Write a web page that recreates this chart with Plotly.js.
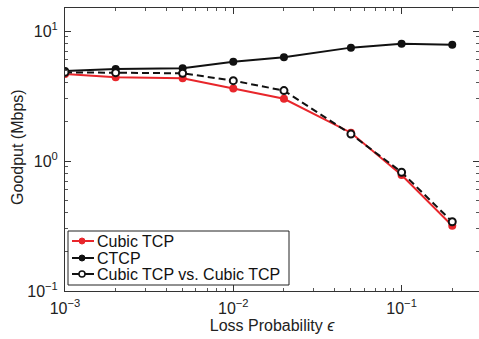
<!DOCTYPE html>
<html>
<head>
<meta charset="utf-8">
<script src="https://cdn.plot.ly/plotly-3.0.1.min.js"></script>
<style>html,body{margin:0;padding:0;background:#fff;}#chart{width:479px;height:339px;}</style>
</head>
<body>
<div id="chart"></div>
<script>
var lossProb = [0.001, 0.002, 0.005, 0.01, 0.02, 0.05, 0.1, 0.2];
var cubicTCP = [4.67, 4.41, 4.33, 3.62, 3.01, 1.65, 0.78, 0.318];
var ctcp = [4.92, 5.10, 5.16, 5.81, 6.28, 7.45, 7.98, 7.85];
var cubicVsCubic = [4.81, 4.78, 4.73, 4.15, 3.48, 1.61, 0.82, 0.341];
var seriesNames = ['Cubic TCP', 'CTCP', 'Cubic TCP vs. Cubic TCP'];
var xTickVals = [0.001, 0.01, 0.1];
var xTickText = ['10<sup>−3</sup>', '10<sup>−2</sup>', '10<sup>−1</sup>'];
var yTickVals = [0.1, 1, 10];
var yTickText = ['10<sup>−1</sup>', '10<sup>0</sup>', '10<sup>1</sup>'];
var xTitle = 'Loss Probability <i>ϵ</i>';
var yTitle = 'Goodput (Mbps)';

var RED = '#e8262b', BLK = '#111';

function minorVals(e0, e1) {
  var v = [];
  for (var e = e0; e <= e1; e++) for (var m = 2; m <= 9; m++) v.push(m * Math.pow(10, e));
  return v;
}

var styles = [
  {line: {color: RED, width: 2}, marker: {color: RED, size: 8, symbol: 'circle'}},
  {line: {color: BLK, width: 2}, marker: {color: BLK, size: 8, symbol: 'circle'}},
  {line: {color: BLK, width: 2, dash: '7px,4px'}, marker: {color: '#fff', size: 7, symbol: 'circle', line: {color: BLK, width: 2}}}
];
var series = [cubicTCP, ctcp, cubicVsCubic];
var traces = series.map(function (ys, i) {
  return {x: lossProb, y: ys, name: seriesNames[i], mode: 'lines+markers',
    line: styles[i].line, marker: styles[i].marker, showlegend: false};
});

// manual compact legend (paper coordinates)
var plotL = 65, plotW = 414, plotB = 291, plotH = 283;
function px(x) { return (x - plotL) / plotW; }
function py(y) { return (plotB - y) / plotH; }
var shapes = [{type: 'rect', xref: 'paper', yref: 'paper', x0: px(68), x1: px(289), y0: py(285), y1: py(231),
  line: {color: '#222', width: 1}, fillcolor: '#fff', layer: 'above'}];
var annotations = [];
var rowY = [241, 258, 274];
seriesNames.forEach(function (nm, i) {
  var yy = py(rowY[i]);
  shapes.push({type: 'line', xref: 'paper', yref: 'paper', x0: px(72), x1: px(94), y0: yy, y1: yy,
    line: {color: styles[i].line.color, width: 2}, layer: 'above'});
  var r = 3;
  shapes.push({type: 'circle', xref: 'paper', yref: 'paper', xsizemode: 'pixel', ysizemode: 'pixel',
    xanchor: px(82), yanchor: yy, x0: -r, x1: r, y0: -r, y1: r,
    fillcolor: i === 2 ? '#fff' : styles[i].marker.color,
    line: {color: i === 2 ? BLK : styles[i].marker.color, width: i === 2 ? 1.5 : 1}, layer: 'above'});
  annotations.push({xref: 'paper', yref: 'paper', x: px(95), y: yy, xanchor: 'left', yanchor: 'middle',
    text: nm, showarrow: false, font: {size: 16, color: '#111'}});
});
annotations.push({xref: 'paper', yref: 'paper', x: px(17), y: py(147), xanchor: 'center', yanchor: 'middle',
  textangle: -90, text: yTitle, showarrow: false, font: {size: 16, color: '#222'}});

var layout = {
  width: 479, height: 339,
  margin: {l: 65, r: 0, t: 8, b: 48},
  paper_bgcolor: '#fff', plot_bgcolor: '#fff',
  font: {family: 'Liberation Sans, Arial, sans-serif', color: '#222', size: 16},
  showlegend: false,
  shapes: shapes, annotations: annotations,
  xaxis: {type: 'log', range: [-3, -0.54], tickmode: 'array', tickvals: xTickVals, ticktext: xTickText,
    ticks: 'inside', ticklen: 6, tickcolor: '#333', showline: true, linecolor: '#333', linewidth: 1,
    mirror: 'allticks', showgrid: false, zeroline: false, tickfont: {size: 16}, ticklabelstandoff: 3,
    minor: {tickmode: 'array', tickvals: minorVals(-3, -1), ticks: 'inside', ticklen: 3, tickcolor: '#555', showgrid: false},
    title: {text: xTitle, font: {size: 16}, standoff: 0}},
  yaxis: {type: 'log', range: [-1, 1.177], tickmode: 'array', tickvals: yTickVals, ticktext: yTickText,
    ticks: 'inside', ticklen: 6, tickcolor: '#333', showline: true, linecolor: '#333', linewidth: 1,
    mirror: 'allticks', showgrid: false, zeroline: false, tickfont: {size: 16}, ticklabelstandoff: 3,
    minor: {tickmode: 'array', tickvals: minorVals(-1, 1), ticks: 'inside', ticklen: 3, tickcolor: '#555', showgrid: false}}
};

Plotly.newPlot('chart', traces, layout, {displayModeBar: false, staticPlot: true});
</script>
</body>
</html>
